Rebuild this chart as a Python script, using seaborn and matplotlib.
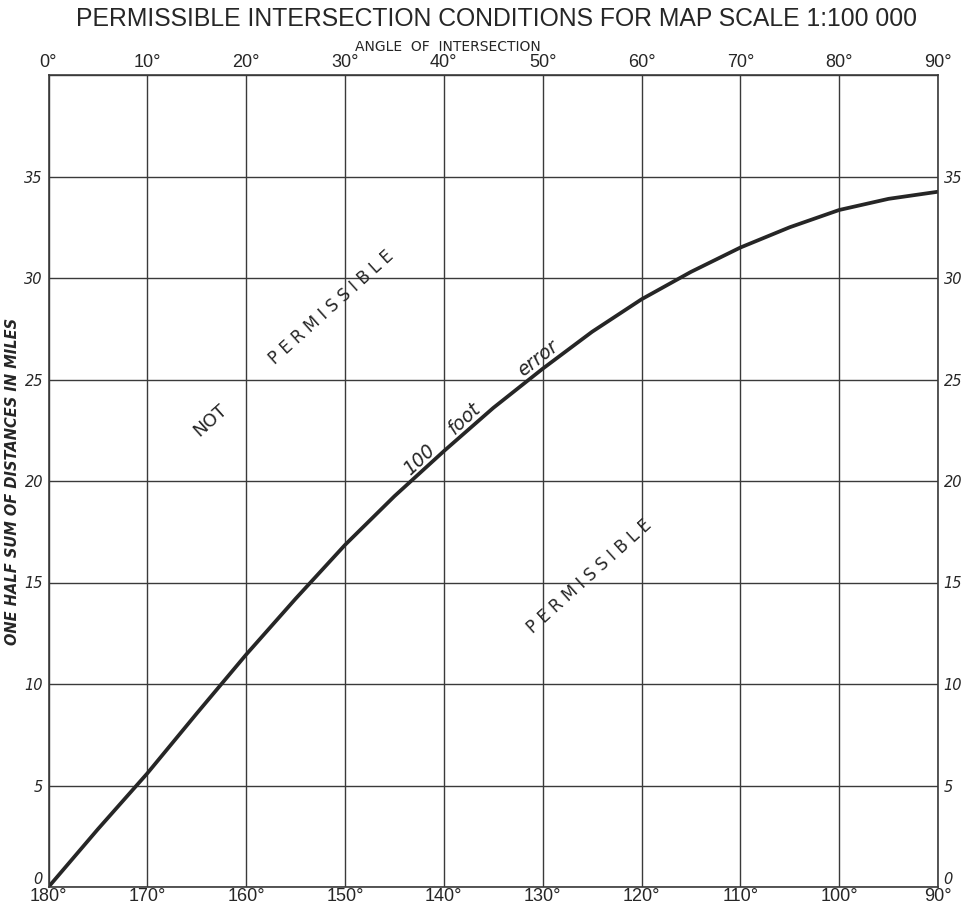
import matplotlib
matplotlib.use("Agg")
import matplotlib.pyplot as plt
import seaborn as sns
import pandas as pd

# ---- data ----
angle = [0, 5, 10, 15, 20, 25, 30, 35, 40, 45, 50, 55, 60, 65, 70, 75, 80, 85, 90]
half_sum_miles = [0, 2.85, 5.6, 8.55, 11.45, 14.2, 16.85, 19.25, 21.47, 23.6, 25.53,
                  27.35, 28.95, 30.3, 31.5, 32.5, 33.35, 33.9, 34.25]
top_ticks = [0, 10, 20, 30, 40, 50, 60, 70, 80, 90]
top_labels = ["0°", "10°", "20°", "30°", "40°", "50°", "60°", "70°", "80°", "90°"]
bottom_labels = ["180°", "170°", "160°", "150°", "140°", "130°", "120°", "110°", "100°", "90°"]
y_ticks = [0, 5, 10, 15, 20, 25, 30, 35, 40]
y_labels = ["0", "5", "10", "15", "20", "25", "30", "35", ""]

sns.set_theme(style="white")
plt.rcParams["font.family"] = ["DejaVu Sans"]
cond = ["Liberation Sans", "DejaVu Sans"]

ink = "#262626"
df = pd.DataFrame({"angle": angle, "miles": half_sum_miles})

fig = plt.figure(figsize=(9.62, 9.07), dpi=100)
ax = fig.add_axes([48.5 / 962, 1 - 887 / 907, (938 - 48.5) / 962, (887 - 75) / 907])

sns.lineplot(data=df, x="angle", y="miles", ax=ax, color=ink, linewidth=2.7)

ax.set_xlim(0, 90)
ax.set_ylim(0, 40)
ax.set_xticks(top_ticks)
ax.set_xticklabels(bottom_labels, fontfamily=cond, fontsize=13, color=ink)
ax.set_yticks(y_ticks)
ax.set_yticklabels(y_labels, fontstyle="italic", fontsize=10.5, color=ink)
ax.tick_params(axis="x", length=0, pad=1)
ax.tick_params(axis="y", length=0, labelright=True, pad=4)
for t in ax.yaxis.get_major_ticks()[:1]:
    t.label1.set_va("bottom")
    t.label2.set_va("bottom")
ax.grid(True, color="#3a3a3a", linewidth=1.0)
for s in ax.spines.values():
    s.set_color("#3a3a3a")
    s.set_linewidth(1.2)
ax.set_xlabel("")
ax.set_ylabel("ONE HALF SUM OF DISTANCES IN MILES", fontstyle="italic", fontsize=10.5,
              fontweight="semibold", color=ink)
ax.yaxis.set_label_coords(-0.032, 0.5)

sec = ax.secondary_xaxis("top")
sec.set_xticks(top_ticks)
sec.set_xticklabels(top_labels, fontfamily=cond, fontsize=13, color=ink)
sec.tick_params(length=0, pad=3)
sec.spines["top"].set_visible(False)

fig.text(497 / 962, 1 - 19 / 907, "PERMISSIBLE INTERSECTION CONDITIONS FOR MAP SCALE 1:100 000",
         ha="center", va="center", fontsize=17.8, fontfamily=cond, color=ink)
fig.text(448 / 962, 1 - 47 / 907, "ANGLE  OF  INTERSECTION", ha="center", va="center",
         fontsize=10, color=ink)

# annotations
kw = dict(ha="center", va="center", color=ink)
ax.text(16.4, 23.0, "NOT", rotation=42, fontsize=13, **kw)
ax.text(28.6, 28.55, "P E R M I S S I B L E", rotation=42, fontsize=12, **kw)
ax.text(54.7, 15.3, "P E R M I S S I B L E", rotation=42, fontsize=12, **kw)
ax.text(37.5, 21.05, "100", rotation=43, fontsize=13.5, fontstyle="italic", **kw)
ax.text(42.1, 23.08, "foot", rotation=43, fontsize=13.5, fontstyle="italic", **kw)
ax.text(49.5, 26.04, "error", rotation=38, fontsize=13.5, fontstyle="italic", **kw)

fig.savefig("out.png", dpi=100, facecolor="white")
